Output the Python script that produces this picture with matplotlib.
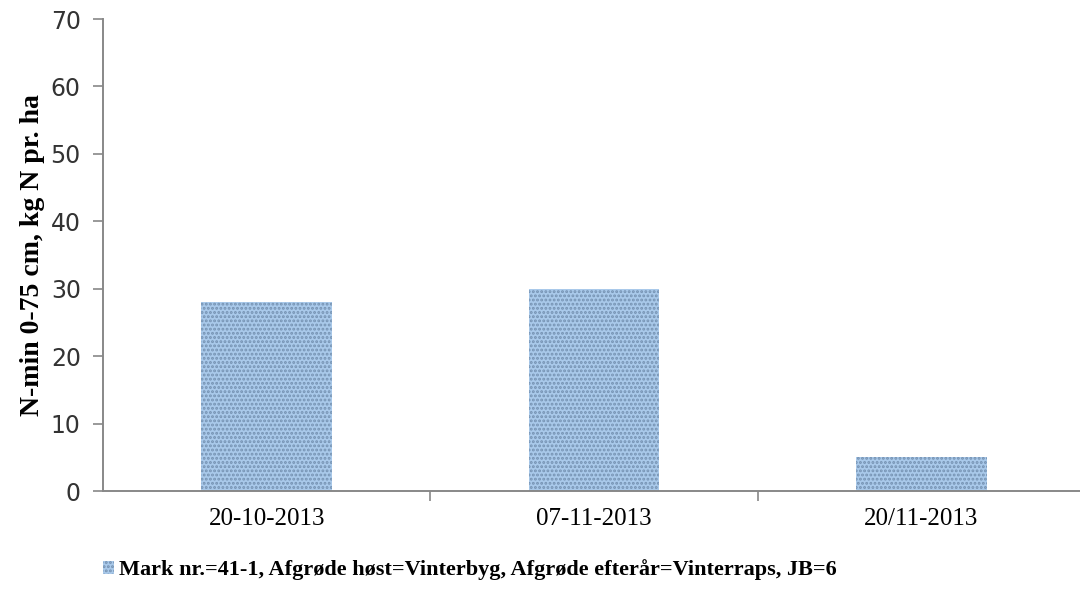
import matplotlib
matplotlib.use("Agg")
import matplotlib.pyplot as plt
from matplotlib.ticker import FixedLocator, NullFormatter

# data
dates = ["20-10-2013", "07-11-2013", "20/11-2013"]
nmin = [28, 30, 5]
series_name = "Mark nr.=41-1, Afgrøde høst=Vinterbyg, Afgrøde efterår=Vinterraps, JB=6"
yticks = [0, 10, 20, 30, 40, 50, 60, 70]

plt.rcParams['hatch.linewidth'] = 1.4

fig = plt.figure(figsize=(10.8, 5.98), dpi=100)
ax = fig.add_axes([0.0954, 0.1789, 0.9046, 0.7893])

x = range(len(dates))
bars = ax.bar(x, nmin, width=0.4, color="#a9c9ea", edgecolor="#7592b2",
              hatch="....", linewidth=0, label=series_name)

ax.set_ylim(0, 70)
ax.set_xlim(-0.5, 2.485)
ax.set_yticks(yticks)
ax.set_yticklabels([str(v) for v in yticks], family="DejaVu Sans", fontsize=17,
                   color="#333333")
ax.set_xticks(list(x))
ax.set_xticklabels(dates, family="Liberation Serif", fontsize=18)
ax.tick_params(axis="x", which="major", length=0, pad=12)
ax.xaxis.set_minor_locator(FixedLocator([0.5, 1.5]))
ax.xaxis.set_minor_formatter(NullFormatter())
ax.tick_params(axis="x", which="minor", length=7, color="#888888", width=1.2)
ax.tick_params(axis="y", length=7, color="#888888", width=1.2, pad=9)

for s in ["top", "right"]:
    ax.spines[s].set_visible(False)
for s in ["left", "bottom"]:
    ax.spines[s].set_color("#888888")
    ax.spines[s].set_linewidth(1.4)

ax.set_ylabel("N-min 0-75 cm, kg N pr. ha", family="Liberation Serif",
              fontweight="bold", fontsize=20, labelpad=4)

fig.legend(loc="center", bbox_to_anchor=(0.435, 0.047), frameon=False,
           prop={"family": "Liberation Serif", "weight": "bold", "size": 16},
           handlelength=0.5, handleheight=0.5, handletextpad=0.2)

fig.savefig("out.png", dpi=100)
